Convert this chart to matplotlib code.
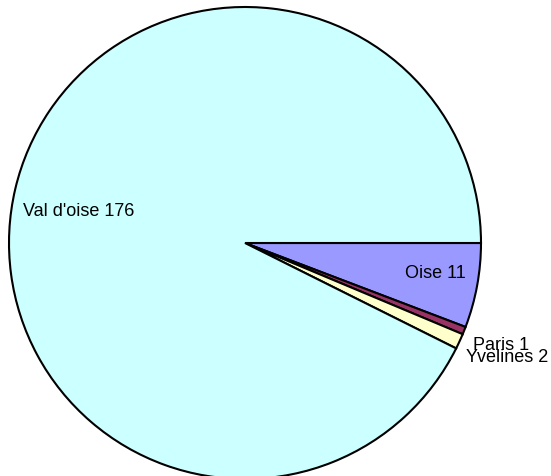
import matplotlib
matplotlib.use("Agg")
import matplotlib.pyplot as plt

categories = ["Oise", "Paris", "Yvelines", "Val d'oise"]
values = [11, 1, 2, 176]
colors = ["#9999FF", "#993366", "#FFFFCC", "#CCFFFF"]

plt.rcParams['font.family'] = ['Liberation Sans', 'DejaVu Sans']

fig = plt.figure(figsize=(5.51, 4.76), dpi=100)
ax = fig.add_axes([0, 0, 1, 1])
ax.set_xlim(0, 551)
ax.set_ylim(0, 476)
ax.set_aspect('equal')
ax.axis('off')

wedges, _ = ax.pie(values, colors=colors, startangle=0, counterclock=False,
                   center=(245, 233), radius=236,
                   wedgeprops=dict(edgecolor='black', linewidth=1.5))
ax.set_xlim(0, 551)
ax.set_ylim(0, 476)

labels = [f"{c} {v}" for c, v in zip(categories, values)]
fs = 13
ax.text(435, 203, labels[0], ha='center', va='center', fontsize=fs)
ax.text(473, 131, labels[1], ha='left', va='center', fontsize=fs)
ax.text(466, 119, labels[2], ha='left', va='center', fontsize=fs)
ax.text(23, 265, labels[3], ha='left', va='center', fontsize=fs)

fig.savefig("out.png", dpi=100)
